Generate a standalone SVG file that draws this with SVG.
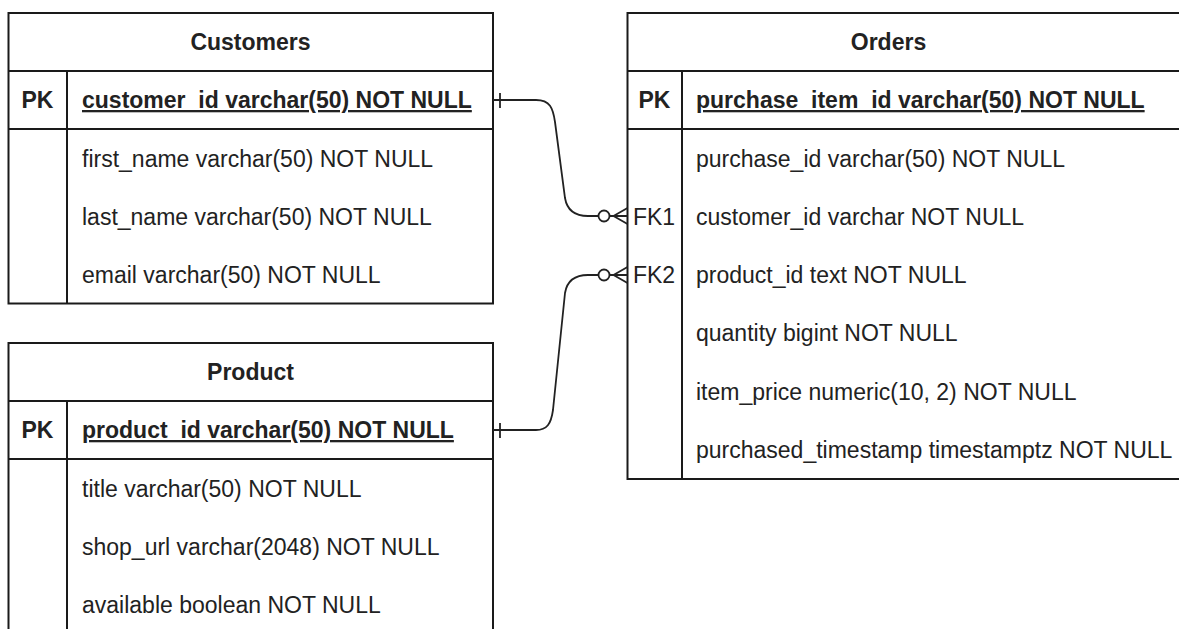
<svg xmlns="http://www.w3.org/2000/svg" width="1179" height="629" viewBox="0 0 1179 629">
<style>
  .box{fill:#ffffff;stroke:#1a1a1a;stroke-width:2}
  .ln{stroke:#1a1a1a;stroke-width:2;fill:none}
  .t{font-family:"Liberation Sans",Arial,sans-serif;font-size:23px;fill:#222222}
  .b{font-weight:bold}
  .c{text-anchor:middle}
  .u{text-decoration:underline}
  .conn{stroke:#222222;stroke-width:1.8;fill:none}
  .circ{stroke:#222222;stroke-width:1.8;fill:#ffffff}
</style>
<rect width="1179" height="629" fill="#ffffff"/>

<g id="customers">
  <rect class="box" x="8.5" y="13" width="484.5" height="290.5"/>
  <line class="ln" x1="8.5" y1="71" x2="493" y2="71"/>
  <line class="ln" x1="8.5" y1="129" x2="493" y2="129"/>
  <line class="ln" x1="67" y1="71" x2="67" y2="303.5"/>
  <text class="t b c" x="250.5" y="50">Customers</text>
  <text class="t b c" x="37.5" y="108">PK</text>
  <text class="t b u" x="82" y="108">customer_id varchar(50) NOT NULL</text>
  <text class="t" x="82" y="166.5">first_name varchar(50) NOT NULL</text>
  <text class="t" x="82" y="224.5">last_name varchar(50) NOT NULL</text>
  <text class="t" x="82" y="283">email varchar(50) NOT NULL</text>
</g>

<g id="product">
  <rect class="box" x="8.5" y="343" width="484.5" height="300"/>
  <line class="ln" x1="8.5" y1="401" x2="493" y2="401"/>
  <line class="ln" x1="8.5" y1="459" x2="493" y2="459"/>
  <line class="ln" x1="67" y1="401" x2="67" y2="640"/>
  <text class="t b c" x="250.5" y="380">Product</text>
  <text class="t b c" x="37.5" y="438">PK</text>
  <text class="t b u" x="82" y="438">product_id varchar(50) NOT NULL</text>
  <text class="t" x="82" y="496.5">title varchar(50) NOT NULL</text>
  <text class="t" x="82" y="554.5">shop_url varchar(2048) NOT NULL</text>
  <text class="t" x="82" y="613">available boolean NOT NULL</text>
</g>

<g id="orders">
  <rect class="box" x="627.5" y="13" width="600" height="466"/>
  <line class="ln" x1="627.5" y1="71" x2="1200" y2="71"/>
  <line class="ln" x1="627.5" y1="129" x2="1200" y2="129"/>
  <line class="ln" x1="682" y1="71" x2="682" y2="479"/>
  <text class="t b c" x="888.5" y="50">Orders</text>
  <text class="t b c" x="654.5" y="108">PK</text>
  <text class="t b u" x="696" y="108">purchase_item_id varchar(50) NOT NULL</text>
  <text class="t" x="696" y="166.5">purchase_id varchar(50) NOT NULL</text>
  <text class="t c" x="654" y="224.5">FK1</text>
  <text class="t" x="696" y="224.5">customer_id varchar NOT NULL</text>
  <text class="t c" x="654" y="283">FK2</text>
  <text class="t" x="696" y="283">product_id text NOT NULL</text>
  <text class="t" x="696" y="341">quantity bigint NOT NULL</text>
  <text class="t" x="696" y="399.5">item_price numeric(10, 2) NOT NULL</text>
  <text class="t" x="696" y="458">purchased_timestamp timestamptz NOT NULL</text>
</g>

<g id="connectors">
  <!-- Customers.customer_id -> Orders.FK1 -->
  <path class="conn" d="M493,100 H536 C550,100 553,108 555,122 L565,198 C567,210 574,216 588,216 H598.5"/>
  <line class="conn" x1="500" y1="93" x2="500" y2="108"/>
  <circle class="circ" cx="604" cy="216" r="5.5"/>
  <path class="conn" d="M609.5,216 H627.5 M613.5,216 L627.5,208 M613.5,216 L627.5,224"/>
  <!-- Product.product_id -> Orders.FK2 -->
  <path class="conn" d="M493,430 H536 C547,430 551,424 553,410 L565,293 C567,281 574,275 588,275 H598.5"/>
  <line class="conn" x1="500" y1="423" x2="500" y2="438"/>
  <circle class="circ" cx="604" cy="275" r="5.5"/>
  <path class="conn" d="M609.5,275 H627.5 M613.5,275 L627.5,267 M613.5,275 L627.5,283"/>
</g>
</svg>
